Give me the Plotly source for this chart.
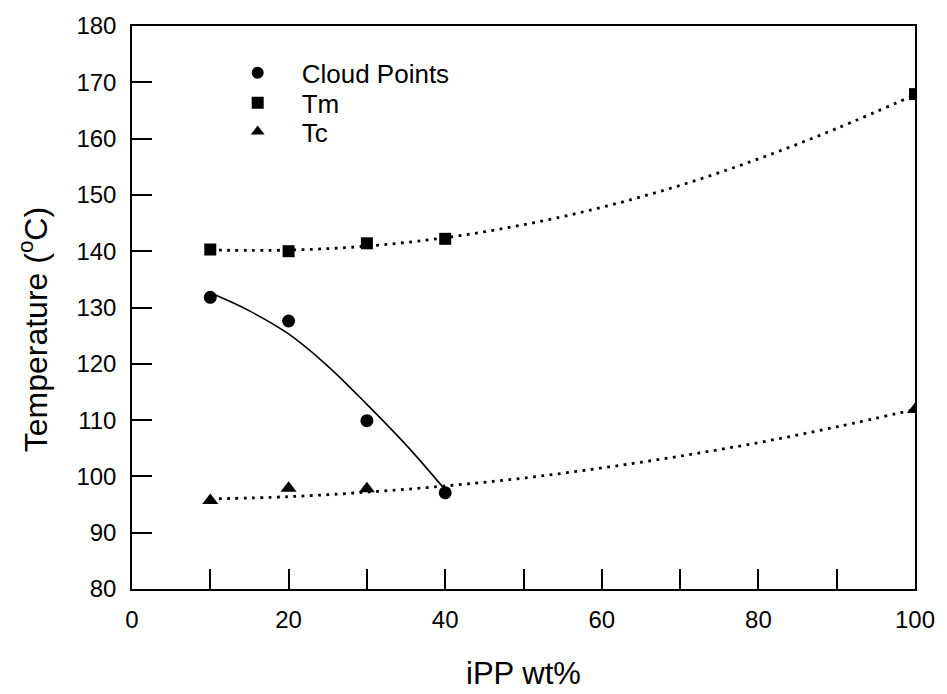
import plotly.graph_objects as go

# ---- data ----
cloud_x = [10, 20, 30, 40]
cloud_y = [131.8, 127.6, 109.9, 97.1]

tm_x = [10, 20, 30, 40, 100]
tm_y = [140.3, 140.0, 141.4, 142.2, 167.9]

tc_x = [10, 20, 30, 100]
tc_y = [95.7, 97.9, 97.8, 111.9]

# fitted curves
cloud_fit_x = [10, 15, 20, 25, 30, 35, 40]
cloud_fit_y = [132.6, 129.4, 125.3, 119.6, 112.8, 105.6, 97.6]

tm_fit_x = [10, 20, 30, 40, 50, 60, 70, 80, 90, 100]
tm_fit_y = [140.2, 140.2, 140.9, 142.4, 144.7, 147.8, 151.7, 156.4, 161.8, 167.8]

tc_fit_x = [10, 20, 30, 40, 50, 60, 70, 80, 90, 100]
tc_fit_y = [96.0, 96.4, 97.2, 98.3, 99.7, 101.5, 103.6, 106.0, 108.8, 111.9]

x_tick_vals = [0, 20, 40, 60, 80, 100]
y_tick_vals = [80, 90, 100, 110, 120, 130, 140, 150, 160, 170, 180]

FONT = "Liberation Sans, Arial, sans-serif"
dotted = dict(color="black", width=2.8, dash="2.8px,5.5px")

fig = go.Figure()

fig.add_trace(go.Scatter(x=tm_fit_x, y=tm_fit_y, mode="lines", line=dict(shape="spline", **dotted),
                         showlegend=False, hoverinfo="skip"))
fig.add_trace(go.Scatter(x=tc_fit_x, y=tc_fit_y, mode="lines", line=dict(shape="spline", **dotted),
                         showlegend=False, hoverinfo="skip"))
fig.add_trace(go.Scatter(x=cloud_fit_x, y=cloud_fit_y, mode="lines",
                         line=dict(shape="spline", color="black", width=1.6),
                         showlegend=False, hoverinfo="skip"))

fig.add_trace(go.Scatter(x=cloud_x, y=cloud_y, mode="markers", name="Cloud Points",
                         marker=dict(symbol="circle", size=13, color="black"), legend="legend"))
fig.add_trace(go.Scatter(x=tm_x, y=tm_y, mode="markers", name="Tm",
                         marker=dict(symbol="square", size=12, color="black"), legend="legend2"))
fig.add_trace(go.Scatter(x=tc_x, y=tc_y, mode="markers", name="Tc",
                         marker=dict(symbol="triangle-up", size=14, color="black"), legend="legend3"))

leg_common = dict(x=(214 - 132) / 786, xanchor="left", yanchor="middle", bgcolor="rgba(0,0,0,0)",
                  font=dict(size=26, family=FONT), itemsizing="constant", itemwidth=78)

fig.update_layout(
    width=947, height=694,
    margin=dict(l=132, r=29, t=24, b=105),
    paper_bgcolor="white", plot_bgcolor="white",
    font=dict(family=FONT, color="black", size=24),
    showlegend=True,
    legend=dict(y=(589 - 71) / 565, **leg_common),
    legend2=dict(y=(589 - 101) / 565, **leg_common),
    legend3=dict(y=(589 - 130) / 565, **leg_common),
    xaxis=dict(range=[0, 100], tickmode="array", tickvals=x_tick_vals,
               ticks="inside", ticklen=20, tickwidth=1.5, tickcolor="black",
               minor=dict(dtick=10, tick0=0, ticks="inside", ticklen=20, tickwidth=1.5,
                          tickcolor="black", showgrid=False),
               showline=True, linecolor="black", linewidth=1.5, mirror=True,
               showgrid=False, zeroline=False, tickfont=dict(size=24),
               ticklabelstandoff=8),
    yaxis=dict(range=[80, 180], tickmode="array", tickvals=y_tick_vals,
               ticks="inside", ticklen=20, tickwidth=1.5, tickcolor="black",
               showline=True, linecolor="black", linewidth=1.5, mirror=True,
               showgrid=False, zeroline=False, tickfont=dict(size=24),
               ticklabelstandoff=9),
    annotations=[
        dict(text="iPP wt%", xref="paper", yref="paper", x=0.5, y=(589 - 674) / 565,
             xanchor="center", yanchor="middle", showarrow=False, font=dict(size=31)),
        dict(text="Temperature (<sup>o</sup>C)", xref="paper", yref="paper",
             x=(33 - 132) / 786, y=(589 - 329) / 565,
             xanchor="center", yanchor="middle", textangle=-90, showarrow=False,
             font=dict(size=32)),
    ],
)

fig.write_html("out.html")
